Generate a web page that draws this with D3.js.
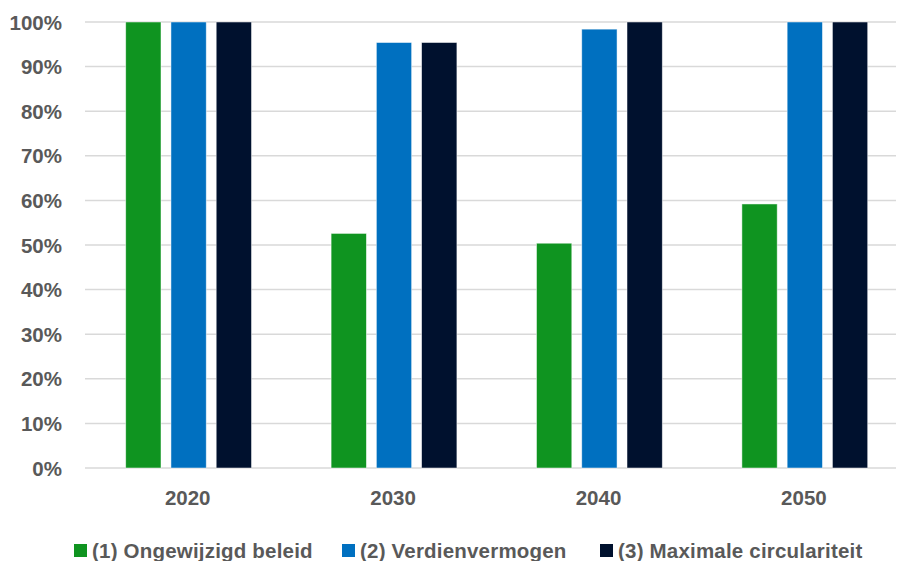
<!DOCTYPE html>
<html>
<head>
<meta charset="utf-8">
<script src="https://cdn.jsdelivr.net/npm/d3@7"></script>
<style>
  html, body { margin: 0; padding: 0; background: #ffffff; }
  svg { display: block; }
  text { font-family: "Liberation Sans", Arial, sans-serif; font-weight: bold; fill: #595959; }
</style>
</head>
<body>
<svg id="chart" width="899" height="561"></svg>
<script>
// Jaren op de x-as
const years = ["2020", "2030", "2040", "2050"];

// Scenario's (legenda)
const scenarios = ["(1) Ongewijzigd beleid", "(2) Verdienvermogen", "(3) Maximale circulariteit"];
const colors = ["#0f9420", "#0070c0", "#00112e"];

// Aandeel per jaar, per scenario
const ongewijzigd = [1.00, 0.526, 0.504, 0.592];
const verdienvermogen = [1.00, 0.954, 0.984, 1.00];
const circulariteit = [1.00, 0.954, 1.00, 1.00];
const seriesValues = [ongewijzigd, verdienvermogen, circulariteit];

// As-labels
const yTicks = [0, 0.1, 0.2, 0.3, 0.4, 0.5, 0.6, 0.7, 0.8, 0.9, 1.0];

const svg = d3.select("#chart");
const plot = { left: 85, right: 896, top: 22, bottom: 468 };
const fontSize = 20.5;

const x0 = d3.scaleBand().domain(years).range([plot.left, plot.left + 821.6]);
const x1 = d3.scaleBand().domain(d3.range(scenarios.length))
  .range([40.7, 166.5]).paddingInner(0.22);
const y = d3.scaleLinear().domain([0, 1]).range([plot.bottom, plot.top]);

// Rasterlijnen
svg.append("g")
  .selectAll("line")
  .data(yTicks)
  .join("line")
  .attr("x1", plot.left)
  .attr("x2", plot.right)
  .attr("y1", d => y(d))
  .attr("y2", d => y(d))
  .attr("stroke", "#d9d9d9")
  .attr("stroke-width", 1.5);

// Y-as
const yAxis = d3.axisLeft(y)
  .tickValues(yTicks)
  .tickFormat(d3.format(".0%"))
  .tickSize(0)
  .tickPadding(0);
svg.append("g")
  .attr("transform", `translate(62,0)`)
  .call(yAxis)
  .call(g => g.select(".domain").remove())
  .call(g => g.selectAll("text")
    .attr("font-size", fontSize)
    .attr("font-family", "Liberation Sans, Arial, sans-serif")
    .attr("font-weight", "bold")
    .attr("fill", "#595959")
    .attr("dy", "0.35em"));

// Staven
const groups = svg.append("g")
  .selectAll("g")
  .data(years)
  .join("g")
  .attr("transform", d => `translate(${x0(d)},0)`);

groups.selectAll("rect")
  .data((yr, i) => seriesValues.map((vals, s) => ({ s, v: vals[i] })))
  .join("rect")
  .attr("x", d => x1(d.s))
  .attr("width", x1.bandwidth())
  .attr("y", d => y(d.v))
  .attr("height", d => y(0) - y(d.v))
  .attr("fill", d => colors[d.s])
  .attr("stroke", "#ffffff")
  .attr("stroke-opacity", 0.6)
  .attr("stroke-width", 0.8);

// X-as
const xAxis = d3.axisBottom(x0).tickSize(0).tickPadding(0);
svg.append("g")
  .attr("transform", `translate(0,498)`)
  .call(xAxis)
  .call(g => g.select(".domain").remove())
  .call(g => g.selectAll("text")
    .attr("font-size", fontSize)
    .attr("font-family", "Liberation Sans, Arial, sans-serif")
    .attr("font-weight", "bold")
    .attr("fill", "#595959")
    .attr("dy", "0.35em"));

// Legenda
const legendX = [74, 342, 600];
const legend = svg.append("g")
  .selectAll("g")
  .data(scenarios)
  .join("g")
  .attr("transform", (d, i) => `translate(${legendX[i]},544)`);

legend.append("rect")
  .attr("width", 13)
  .attr("height", 13)
  .attr("fill", (d, i) => colors[i]);

legend.append("text")
  .attr("x", 18)
  .attr("y", 6.5)
  .attr("dy", "0.35em")
  .attr("font-size", fontSize)
  .attr("letter-spacing", 0.2)
  .text(d => d);
</script>
</body>
</html>
